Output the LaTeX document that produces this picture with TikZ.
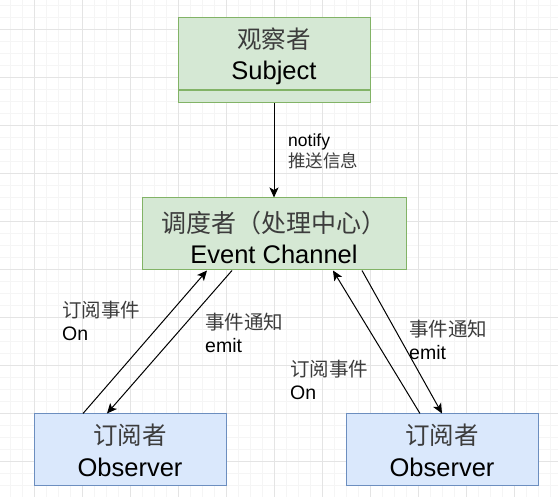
\documentclass[tikz,border=0pt]{standalone}
\usepackage{fontspec}
\setmainfont{Liberation Sans}
\newfontfamily\cjk{Noto Sans CJK SC}
\usetikzlibrary{arrows.meta}
\definecolor{subjfill}{HTML}{D5E8D4}
\definecolor{subjline}{HTML}{82B366}
\definecolor{obsfill}{HTML}{DAE8FC}
\definecolor{obsline}{HTML}{6C8EBF}
\definecolor{minorgrid}{HTML}{F5F5F5}
\definecolor{majorgrid}{HTML}{E4E4E4}
\definecolor{zhgray}{HTML}{3C3C3C}
\newcommand{\zh}[1]{{\cjk\color{zhgray}#1}}
\begin{document}
\begin{tikzpicture}[x=1pt,y=-1pt,
  minorline/.style={color=minorgrid,line width=1pt},
  majorline/.style={color=majorgrid,line width=1pt},
  greenbox/.style={draw=subjline,fill=subjfill,line width=1pt,inner sep=0pt},
  bluebox/.style={draw=obsline,fill=obsfill,line width=1pt,inner sep=0pt,minimum width=192pt,minimum height=72pt,align=center,font=\fontsize{25.5}{32}\selectfont},
  boxtext/.style={align=center,inner sep=0pt,font=\fontsize{25.5}{31}\selectfont},
  flow/.style={line width=1pt,-{Stealth[length=10pt,width=9pt,inset=2.5pt]}},
  lbl/.style={anchor=west,align=left,inner sep=0pt,font=\fontsize{17.5}{21}\selectfont},
  sidelbl/.style={lbl,font=\fontsize{19.5}{23.5}\selectfont}]
\fill[white] (0,0) rectangle (558,497);
\useasboundingbox (0,0) rectangle (558,497);
% Drawing grid
\foreach \gx in {-2,10,...,554} \draw[minorline] (\gx,0) -- (\gx,497);
\foreach \gy in {6,18,...,494} \draw[minorline] (0,\gy) -- (558,\gy);
\foreach \gx in {34,82,...,514} \draw[majorline] (\gx,0) -- (\gx,497);
\foreach \gy in {30,78,...,462} \draw[majorline] (0,\gy) -- (558,\gy);
% Done with grid; drawing boxes
% Subject
\node[greenbox,minimum width=192pt,minimum height=72pt] (subj) at (274,54) {};
\node[greenbox,minimum width=192pt,minimum height=12pt,anchor=north] (subjfoot) at (subj.south) {};
\node[boxtext] (subjtext) at (274,56) {\zh{\fontsize{24.5}{31}\selectfont 观察者}\\Subject};
% Event Channel
\node[greenbox,minimum width=264pt,minimum height=72pt] (chan) at (274,234) {};
\node[boxtext] (chantext) at (274,237) {\zh{\fontsize{25}{31}\selectfont 调度者（处理中心）}\\Event Channel};
% Observers
\node[bluebox] (obsL) at (130,450) {\zh{\fontsize{24.5}{32}\selectfont 订阅者}\\Observer};
\node[bluebox] (obsR) at (442,450) {\zh{\fontsize{24.5}{32}\selectfont 订阅者}\\Observer};
% Done with boxes; drawing connectors
\draw[flow] (subjfoot.south) -- (chan.north);
\draw[flow] ([xshift=-47pt]obsL.north) -- ([xshift=-67pt]chan.south);
\draw[flow] ([xshift=-42pt]chan.south) -- ([xshift=-23pt]obsL.north);
\draw[flow] ([xshift=-22pt]obsR.north) -- ([xshift=59pt]chan.south);
\draw[flow] ([xshift=88pt]chan.south) -- (obsR.north);
% Done with connectors; drawing labels
\node[lbl] (lnotify) at (288,151) {notify\\\zh{推送信息}};
\node[sidelbl] (lonL) at (62,321) {\zh{订阅事件}\\On};
\node[sidelbl] (lemitL) at (205,333) {\zh{事件通知}\\emit};
\node[sidelbl] (lemitR) at (409,340) {\zh{事件通知}\\emit};
\node[sidelbl] (lonR) at (290,380) {\zh{订阅事件}\\On};
% Done with labels
\end{tikzpicture}
\end{document}
